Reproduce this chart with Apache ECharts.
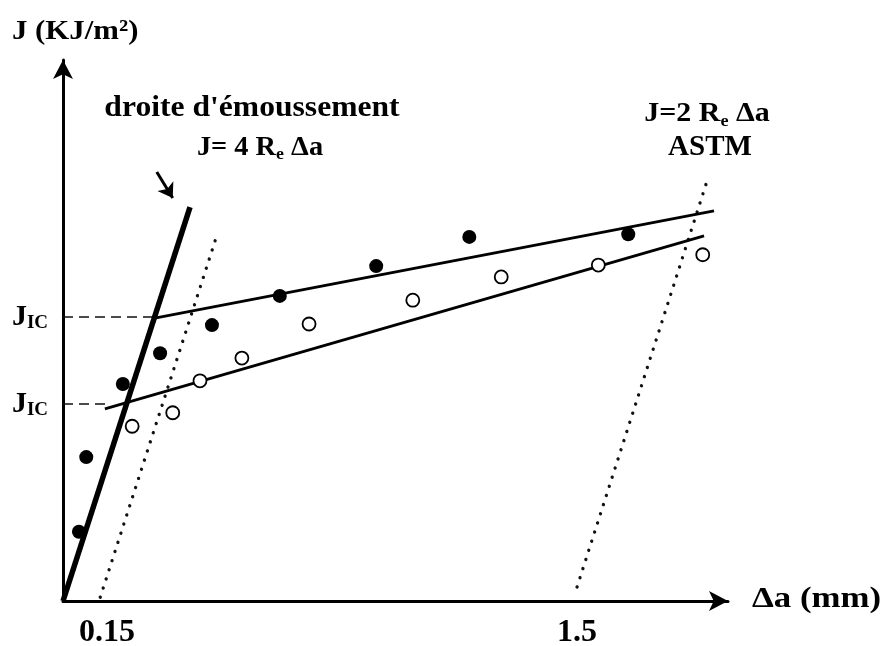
<!DOCTYPE html>
<html>
<head>
<meta charset="utf-8">
<script src="https://cdn.jsdelivr.net/npm/echarts@6/dist/echarts.min.js"></script>
<style>html,body{margin:0;padding:0;background:#fff}#c{width:882px;height:646px}</style>
</head>
<body>
<div id="c"></div>
<script>
// Schematic units (axis 0..100)
const filledX = [2.4, 3.5, 9.0, 14.6, 22.4, 32.6, 47.1, 61.1, 85.0];
const filledY = [12.8, 26.6, 40.1, 45.8, 51.0, 56.4, 61.9, 67.3, 67.8];
const openX = [10.4, 16.5, 20.6, 26.9, 37.0, 52.6, 65.9, 80.5, 96.2];
const openY = [32.3, 34.8, 40.7, 44.9, 51.2, 55.6, 59.9, 62.1, 64.0];
const bluntingLine = [[0, 0], [19.1, 72.8]];
const offsetLine015 = [[5.6, 0.7], [23.3, 68.2]];
const astmLine = [[77.3, 2.6], [97.1, 78.6]];
const fitFilled = [[13.8, 52.3], [97.9, 72.1]];
const fitOpen = [[6.3, 35.5], [96.4, 67.5]];
const jicValues = [36.4, 52.5];
const jicDashEnds = [7.1, 13.8];
const xTickPos = [6.6, 77.3];
const xTickLabels = ['0.15', '1.5'];
const pointerArrow = [[14.1, 79.3], [16.5, 74.5]];

const FONT = '"Liberation Serif", "Times New Roman", serif';
const chart = echarts.init(document.getElementById('c'), null, {renderer: 'canvas'});

const pts = (xs, ys) => xs.map((x, i) => [x, ys[i]]);
const lineSeries = (data, style, z) => ({
  type: 'line', data: data, showSymbol: false, symbol: 'none', silent: true,
  lineStyle: style, z: z || 2, animation: false
});
const dotted = {color: '#111', width: 3.3, type: [0.1, 9.5], cap: 'round'};
const dashed = {color: '#111', width: 1.5, type: [10, 6]};

const series = [
  lineSeries(offsetLine015, dotted, 1),
  lineSeries(astmLine, dotted, 1),
  lineSeries([[0, jicValues[0]], [jicDashEnds[0], jicValues[0]]], dashed, 1),
  lineSeries([[0, jicValues[1]], [jicDashEnds[1], jicValues[1]]], dashed, 1),
  lineSeries(fitFilled, {color: '#000', width: 2.8}, 2),
  lineSeries(fitOpen, {color: '#000', width: 2.8}, 2),
  lineSeries(bluntingLine, {color: '#000', width: 5.5}, 3),
  {
    type: 'lines', coordinateSystem: 'cartesian2d', silent: true, animation: false,
    symbol: ['none', 'arrow'], symbolSize: 14,
    lineStyle: {color: '#000', width: 3, opacity: 1},
    data: [{coords: pointerArrow}], z: 3
  },
  {
    type: 'scatter', data: pts(filledX, filledY), symbol: 'circle', symbolSize: 14,
    itemStyle: {color: '#000', opacity: 1}, z: 4, animation: false, silent: true
  },
  {
    type: 'scatter', data: pts(openX, openY), symbol: 'circle', symbolSize: 13,
    itemStyle: {color: '#fff', borderColor: '#000', borderWidth: 1.8, opacity: 1}, z: 4, animation: false, silent: true
  }
];

const txt = (text, x, y, size, align, sx, rich) => ({
  type: 'text', silent: true, x: x, y: y, scaleX: sx || 1,
  style: {
    text: text, x: 0, y: 0, fill: '#000',
    font: 'bold ' + size + 'px ' + FONT,
    align: align || 'center', verticalAlign: 'middle', rich: rich
  }
});
const subRich = (size) => ({
  m: {fontSize: size, fontWeight: 'bold', fontFamily: FONT, lineHeight: size + 4, fill: '#000'},
  s: {fontSize: Math.round(size * 0.62), fontWeight: 'bold', fontFamily: FONT, lineHeight: Math.round(size * 0.62) + 2, verticalAlign: 'bottom', fill: '#000'}
});

chart.setOption({
  animation: false,
  backgroundColor: '#fff',
  grid: {left: 63, right: 154, top: 60, bottom: 45, outerBoundsMode: 'none', containLabel: false},
  xAxis: {
    type: 'value', min: 0, max: 100,
    axisLine: {show: true, lineStyle: {color: '#000', width: 3}, symbol: ['none', 'arrow'], symbolSize: [15, 19]},
    axisTick: {show: false},
    splitLine: {show: false},
    axisLabel: {
      customValues: xTickPos, margin: 16, color: '#000',
      fontFamily: FONT, fontWeight: 'bold', fontSize: 32,
      formatter: (v) => { const i = xTickPos.indexOf(v); return i >= 0 ? xTickLabels[i] : ''; }
    }
  },
  yAxis: {
    type: 'value', min: 0, max: 100,
    axisLine: {show: true, lineStyle: {color: '#000', width: 3}, symbol: ['none', 'arrow'], symbolSize: [15, 19]},
    axisTick: {show: false},
    splitLine: {show: false},
    axisLabel: {
      customValues: jicValues, margin: 15, color: '#000',
      formatter: () => '{j|J}{ic|IC}',
      rich: {
        j: {fontSize: 30, fontWeight: 'bold', fontFamily: FONT, lineHeight: 32, color: '#000'},
        ic: {fontSize: 19, fontWeight: 'bold', fontFamily: FONT, lineHeight: 16, verticalAlign: 'bottom', color: '#000'}
      }
    }
  },
  graphic: [
    txt('J (KJ/m²)', 12, 32, 28, 'left', 1.1),
    txt('droite d\'émoussement', 252, 109, 29, 'center', 1.09),
    txt('{m|J= 4 R}{s|e}{m| Δa}', 260, 148, 27, 'center', 1.05, subRich(27)),
    txt('{m|J=2 R}{s|e}{m| Δa}', 707, 114, 28, 'center', 1.07, subRich(28)),
    txt('ASTM', 710, 148, 29, 'center', 1.0),
    txt('Δa (mm)', 752, 599, 30, 'left', 1.16)
  ],
  series: series
});
</script>
</body>
</html>
